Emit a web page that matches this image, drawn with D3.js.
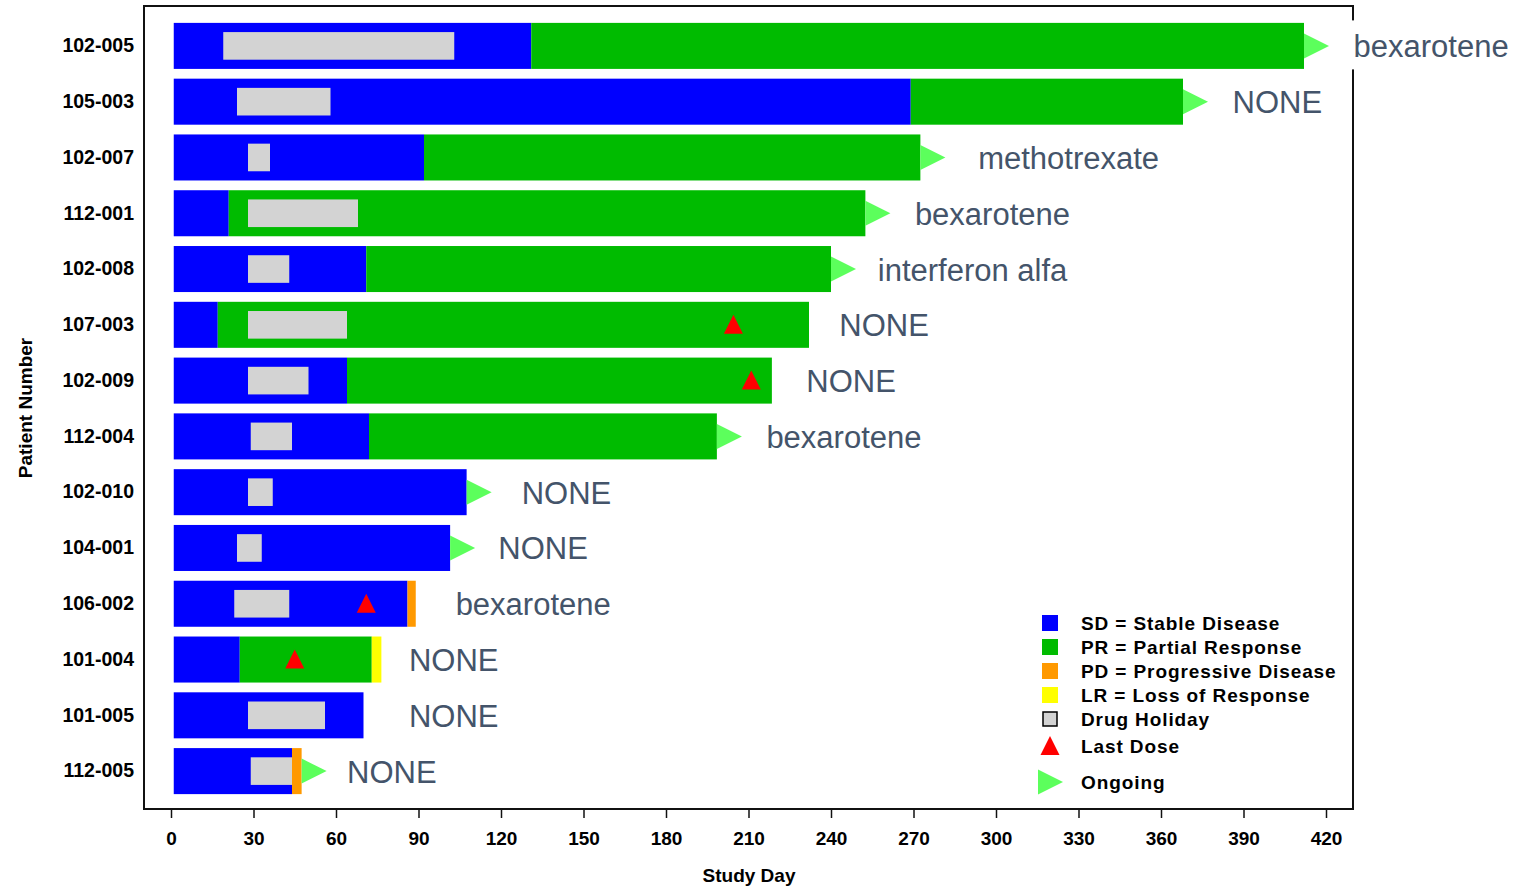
<!DOCTYPE html>
<html>
<head>
<meta charset="utf-8">
<script src="https://cdn.jsdelivr.net/npm/d3@7"></script>
<style>
  body { margin: 0; background: #fff; }
  svg { display: block; font-family: "Liberation Sans", Arial, sans-serif; }
</style>
</head>
<body>
<svg id="chart" width="1526" height="889"></svg>
<script>
// patients top to bottom
const patients = ['102-005', '105-003', '102-007', '112-001', '102-008', '107-003', '102-009',
    '112-004', '102-010', '104-001', '106-002', '101-004', '101-005', '112-005'];
// end day of each response period (null = period not present)
const sdEnd = [131, 269, 92, 21, 71, 17, 64, 72, 107.5, 101.5, 86, 25, 70, 44];
const prEnd = [412, 368, 272.5, 252.5, 240, 232, 218.5, 198.5, null, null, null, 73, null, null];
const pdEnd = [null, null, null, null, null, null, null, null, null, null, 89, null, null, 47.5];
const lrEnd = [null, null, null, null, null, null, null, null, null, null, null, 76.5, null, null];
const holidayStart = [19, 24, 28, 28, 28, 28, 28, 29, 28, 24, 23, null, 28, 29];
const holidayEnd = [103, 58, 36, 68, 43, 64, 50, 44, 37, 33, 43, null, 56, 44];
const lastDose = [null, null, null, null, null, 204.5, 211, null, null, null, 71, 45, null, null];
const ongoing = [1, 1, 1, 1, 1, 0, 0, 1, 1, 1, 0, 0, 0, 1];
const nextTherapy = ['bexarotene', 'NONE', 'methotrexate', 'bexarotene', 'interferon alfa', 'NONE', 'NONE',
    'bexarotene', 'NONE', 'NONE', 'bexarotene', 'NONE', 'NONE', 'NONE'];
const labelDay = [430, 386, 293.5, 270.5, 257, 243, 231, 216.5, 127.5, 119, 103.5, 86.5, 86.5, 64];
const xTicks = d3.range(0, 421, 30);

const colors = { SD: '#0000FF', PR: '#00BB00', PD: '#FF9900', LR: '#FFFF00', hol: '#D3D3D3', dose: '#FF0000', go: '#5CFF5C' };
const legendItems = [
    { key: 'SD', text: 'SD = Stable Disease' },
    { key: 'PR', text: 'PR = Partial Response' },
    { key: 'PD', text: 'PD = Progressive Disease' },
    { key: 'LR', text: 'LR = Loss of Response' },
    { key: 'hol', text: 'Drug Holiday' },
    { key: 'dose', text: 'Last Dose' },
    { key: 'go', text: 'Ongoing' }
];

const frame = { left: 144, right: 1353, top: 6, bottom: 809 };
const svg = d3.select('#chart');

const x = d3.scaleLinear().domain([0, 420]).range([171, 1326]);
const y = d3.scaleBand().domain(patients).range([18, 799]).paddingInner(0.175).paddingOuter(0.0875);
const bw = y.bandwidth();

// build segments
const segs = [];
patients.forEach((p, i) => {
    let start = 1;
    [['SD', sdEnd], ['PR', prEnd], ['PD', pdEnd], ['LR', lrEnd]].forEach(([k, arr]) => {
        if (arr[i] != null) {
            segs.push({ p, k, s: start, e: arr[i] });
            start = arr[i];
        }
    });
});
const barEnd = patients.map((p, i) => d3.max([sdEnd[i], prEnd[i], pdEnd[i], lrEnd[i]]));

// frame
svg.append('rect')
    .attr('x', frame.left).attr('y', frame.top)
    .attr('width', frame.right - frame.left).attr('height', frame.bottom - frame.top)
    .attr('fill', 'none').attr('stroke', '#111').attr('stroke-width', 2);

svg.append('g').selectAll('rect')
    .data(segs)
    .enter()
    .append('rect')
    .attr('x', d => x(d.s))
    .attr('y', d => y(d.p))
    .attr('width', d => x(d.e) - x(d.s))
    .attr('height', bw)
    .attr('fill', d => colors[d.k]);

// drug holidays
svg.append('g').selectAll('rect')
    .data(patients.filter((p, i) => holidayStart[i] != null))
    .enter()
    .append('rect')
    .attr('x', p => x(holidayStart[patients.indexOf(p)]))
    .attr('y', p => y(p) + bw * 0.2)
    .attr('width', p => x(holidayEnd[patients.indexOf(p)]) - x(holidayStart[patients.indexOf(p)]))
    .attr('height', bw * 0.6)
    .attr('fill', colors.hol);

// last dose
svg.append('g').selectAll('path')
    .data(patients.filter((p, i) => lastDose[i] != null))
    .enter()
    .append('path')
    .attr('d', p => {
        const cx = x(lastDose[patients.indexOf(p)]), cy = y(p) + bw / 2;
        return `M${cx - 9.5},${cy + 9} L${cx + 9.5},${cy + 9} L${cx},${cy - 10} Z`;
    })
    .attr('fill', colors.dose);

// ongoing arrows
svg.append('g').selectAll('path')
    .data(patients.filter((p, i) => ongoing[i]))
    .enter()
    .append('path')
    .attr('d', p => {
        const sx = x(barEnd[patients.indexOf(p)]), cy = y(p) + bw / 2;
        return `M${sx},${cy - 12.5} L${sx + 25},${cy} L${sx},${cy + 12.5} Z`;
    })
    .attr('fill', colors.go);

// next therapy labels (white box behind, like the original)
const lab = svg.append('g').selectAll('g')
    .data(patients)
    .enter()
    .append('g');
lab.append('text')
    .attr('x', (p, i) => x(labelDay[i]))
    .attr('y', p => y(p) + bw / 2 + 1)
    .attr('dominant-baseline', 'central')
    .attr('font-size', 31)
    .attr('fill', '#44546A')
    .text((p, i) => nextTherapy[i]);
lab.each(function () {
    const g = d3.select(this);
    const bb = g.select('text').node().getBBox();
    g.insert('rect', 'text')
        .attr('x', bb.x - 4).attr('y', bb.y - 9).attr('width', bb.width + 8).attr('height', bb.height + 14)
        .attr('fill', '#fff');
});

// x axis
const xAxis = d3.axisBottom(x).tickValues(xTicks).tickSize(9).tickPadding(14);
const gx = svg.append('g').attr('transform', `translate(0,${frame.bottom})`).call(xAxis);
gx.select('.domain').remove();
gx.selectAll('line').attr('stroke', '#111').attr('stroke-width', 1.5);
gx.selectAll('text').attr('font-size', 19).attr('font-weight', 'bold').attr('fill', '#000')
    .attr('font-family', '"Liberation Sans", Arial, sans-serif');

// y axis labels
const yAxis = d3.axisLeft(y).tickSize(0).tickPadding(10);
const gy = svg.append('g').attr('transform', `translate(${frame.left},0)`).call(yAxis);
gy.select('.domain').remove();
gy.selectAll('text').attr('font-size', 19.5).attr('font-weight', 'bold').attr('fill', '#000')
    .attr('font-family', '"Liberation Sans", Arial, sans-serif');

// axis titles
svg.append('text')
    .attr('x', 749).attr('y', 882)
    .attr('text-anchor', 'middle')
    .attr('font-size', 19).attr('font-weight', 'bold')
    .text('Study Day');
svg.append('text')
    .attr('transform', 'translate(32,408) rotate(-90)')
    .attr('text-anchor', 'middle')
    .attr('font-size', 19).attr('font-weight', 'bold')
    .text('Patient Number');

// legend
const legY = [623, 647, 671, 695, 719, 746, 782];
const leg = svg.append('g').selectAll('g')
    .data(legendItems)
    .enter()
    .append('g')
    .attr('transform', (d, i) => `translate(1050,${legY[i]})`);
leg.each(function (d) {
    const g = d3.select(this);
    if (d.key === 'dose') {
        g.append('path').attr('d', 'M-9.5,9 L9.5,9 L0,-10 Z').attr('fill', colors.dose);
    } else if (d.key === 'go') {
        g.append('path').attr('d', 'M-12,-12.5 L13,0 L-12,12.5 Z').attr('fill', colors.go);
    } else if (d.key === 'hol') {
        g.append('rect').attr('x', -7).attr('y', -7).attr('width', 14).attr('height', 14)
            .attr('fill', colors.hol).attr('stroke', '#000').attr('stroke-width', 1.5);
    } else {
        g.append('rect').attr('x', -8).attr('y', -8).attr('width', 16).attr('height', 16)
            .attr('fill', colors[d.key]);
    }
});
leg.append('text')
    .attr('x', 31)
    .attr('dominant-baseline', 'central')
    .attr('font-size', 19).attr('font-weight', 'bold')
    .attr('letter-spacing', 0.9)
    .text(d => d.text);
</script>
</body>
</html>
